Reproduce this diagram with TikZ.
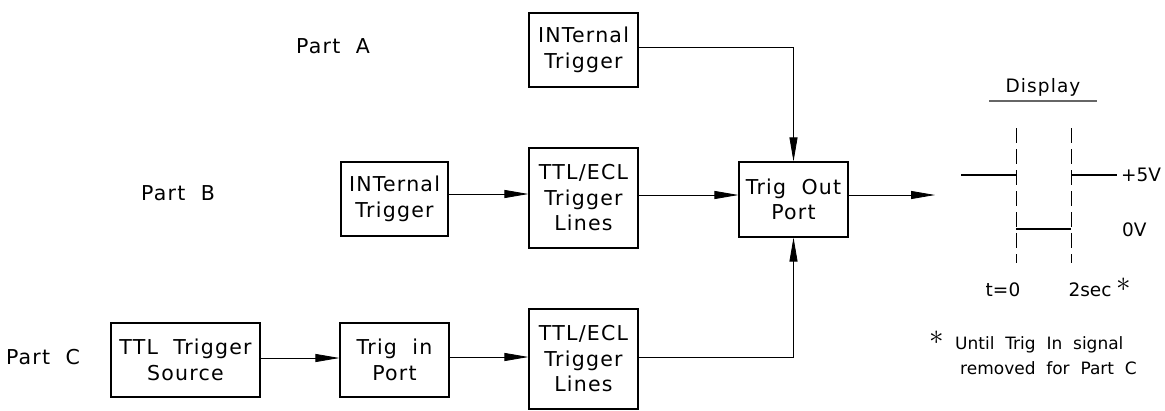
\documentclass[tikz,border=0pt]{standalone}
\usepackage{fontspec}
\setmainfont{DejaVu Sans}[LetterSpace=6.0]
\newfontfamily\plainfont{DejaVu Sans}
\usetikzlibrary{arrows.meta,shadows}
\tikzset{
  blk/.style={draw, fill=white, line width=1.1pt, inner sep=0pt, align=center,
    font=\fontsize{20.5}{25.5}\selectfont,
    general shadow={fill=black, shadow xshift=1.3pt, shadow yshift=-1.3pt}},
  lbl/.style={inner sep=0pt, font=\fontsize{20.5}{24}\selectfont},
  dlbl/.style={inner sep=0pt, font=\plainfont\fontsize{18.5}{22}\selectfont},
  note/.style={inner sep=0pt, font=\plainfont\fontsize{17}{20}\selectfont},
  arr/.style={line width=0.8pt, -{Triangle[length=24pt,width=8pt]}},
  level/.style={line width=1.6pt},
  guide/.style={line width=0.8pt, dash pattern=on 15pt off 6pt},
  astx/.style={inner sep=0pt, font=\fontsize{20}{20}\selectfont},
}
\newcommand{\bigast}{\scalebox{1.4}{$\ast$}}
\begin{document}
\begin{tikzpicture}[x=1pt,y=-1pt]
\useasboundingbox (0,0) rectangle (1165,410);
% part labels
\node[lbl] (pa) at (333,46) {Part\ \ A};
\node[lbl] (pb) at (178,193) {Part\ \ B};
\node[lbl] (pc) at (43,357) {Part\ \ C};
% blocks
\node[blk, minimum width=109pt, minimum height=74pt] (intA) at (583.5,50) {INTernal\\Trigger};
\node[blk, minimum width=107pt, minimum height=74pt] (intB) at (394.5,199) {INTernal\\Trigger};
\node[blk, minimum width=109pt, minimum height=100pt] (ttlB) at (583.5,198) {TTL/ECL\\Trigger\\Lines};
\node[blk, minimum width=109pt, minimum height=75pt] (tout) at (793.5,199.5) {Trig\ \ Out\\Port};
\node[blk, minimum width=149pt, minimum height=74pt] (src) at (185.5,360) {TTL\ \ Trigger\\Source};
\node[blk, minimum width=109pt, minimum height=74pt] (tin) at (394.5,360) {Trig\ \ in\\Port};
\node[blk, minimum width=109pt, minimum height=100pt] (ttlC) at (583.5,359) {TTL/ECL\\Trigger\\Lines};
% connectors
\draw[arr] ([yshift=3pt]intA.east) -| (tout.north);
\draw[arr] ([yshift=5pt]intB.east) -- ([yshift=5pt]intB.east -| ttlB.west);
\draw[arr] ([yshift=3pt]ttlB.east) -- ([yshift=3pt]ttlB.east -| tout.west);
\draw[arr] ([yshift=2pt]src.east) -- ([yshift=2pt]src.east -| tin.west);
\draw[arr] ([yshift=3pt]tin.east) -- ([yshift=3pt]tin.east -| ttlC.west);
\draw[arr] ([yshift=2pt]ttlC.east) -| (tout.south);
\coordinate (outtip) at (935,195);
\draw[arr] (tout.east |- outtip) -- (outtip);
% display
\node[inner sep=0pt, font=\fontsize{18.5}{22}\selectfont] (disp) at (1043,87) {Display};
\coordinate (ul1) at (989,101);
\coordinate (ul2) at (1097,101);
\draw[line width=1.2pt, black!60] (ul1) -- (ul2);
\coordinate (d1t) at (1016,128);
\coordinate (d1b) at (1016,263);
\coordinate (d2t) at (1071,128);
\coordinate (d2b) at (1071,263);
\draw[guide] (d1t) -- (d1b);
\draw[guide] (d2t) -- (d2b);
\coordinate (h1) at (961,175);
\coordinate (h2) at (1117,175);
\draw[level] (h1) -- (h1 -| d1t);
\draw[level] (h2 -| d2t) -- (h2);
\coordinate (lo) at (1016,229);
\draw[level] (lo) -- (lo -| d2t);
\node[dlbl, anchor=west] (v5) at (1121,175) {+5V};
\node[dlbl, anchor=west] (v0) at (1122,230) {0V};
\node[dlbl] (t0) at (1003,290) {t=0};
\node[dlbl] (t2) at (1090,290) {2sec};
\node[astx] (ast1) at (1124,285) {\bigast};
\node[astx] (ast2) at (937,338) {\bigast};
\node[note, anchor=west] (n1) at (955,345) {Until\ \ Trig\ \ In\ \ signal};
\node[note, anchor=west] (n2) at (960,368) {removed\ \ for\ \ Part\ \ C};
\end{tikzpicture}
\end{document}
